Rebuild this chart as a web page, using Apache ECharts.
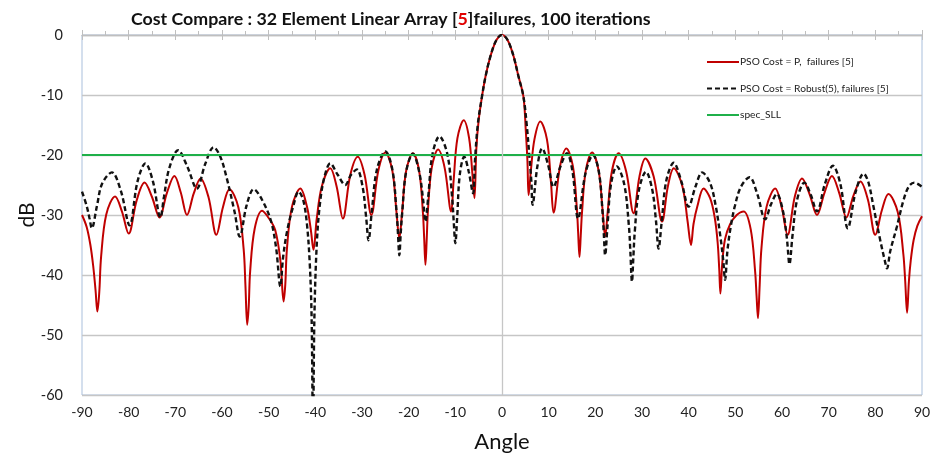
<!DOCTYPE html>
<html>
<head>
<meta charset="utf-8">
<script src="https://cdn.jsdelivr.net/npm/echarts@6/dist/echarts.min.js"></script>
<style>html,body{margin:0;padding:0;background:#fff}#c{width:939px;height:460px}</style>
</head>
<body>
<div id="c"></div>
<script>
const xTicks = [-90, 90, 10];
const yTicks = [-60, 0, 10];
const seriesNames = ['PSO Cost = P,  failures [5]', 'PSO Cost = Robust(5), failures [5]', 'spec_SLL'];

const redAngle = [-90,-89.0,-88.2,-87.6,-87.1,-86.7,-86.3,-85.9,-84.8,-82.9,-81.45,-80.0,-78.3,-76.6,-75.0,-73.4,-71.8,-70.2,-68.85,-67.5,-66.05,-64.6,-62.9,-61.2,-59.8,-58.4,-56.5,-55.36,-54.98,-54.6,-54.28,-53.96,-53.0,-51.4,-50.0,-48.6,-47.5,-46.8,-46.44,-46.08,-45.0,-43.2,-41.8,-40.96,-40.4,-39.68,-38.6,-36.8,-35.45,-34.1,-32.5,-30.9,-29.45,-28.0,-26.5,-25.0,-23.5,-22.6,-22.0,-21.42,-20.55,-19.1,-17.75,-16.94,-16.67,-16.4,-16.13,-15.86,-15.05,-13.7,-12.3,-10.9,-10.36,-9.55,-8.2,-7.05,-6.36,-5.9,-5.5,-5.0,-4.3,-3.5,-2.5,-1.5,-0.7,0,0.7,1.5,2.5,3.5,4.6,5.1,5.45,5.7,6.2,6.95,8.2,9.63,10.48,11.05,12.43,13.8,15.2,16.04,16.32,16.6,16.87,17.14,17.95,19.3,20.7,21.54,22.1,22.68,23.55,25.0,26.6,28.2,29.45,30.7,32.5,34.3,35.55,36.8,38.65,39.76,40.5,41.04,41.85,43.2,44.6,45.6,46.2,46.55,46.8,47.2,47.8,48.9,50.3,51.8,53.3,54.24,54.55,54.85,55.22,55.59,56.7,58.55,59.9,61.2,62.75,64.3,65.9,67.5,69.1,70.7,72.25,73.8,75.3,76.8,78.4,80.0,81.4,82.8,84.8,86.0,86.4,86.8,87.2,87.6,88.2,89.0,90];
const redDb = [-30,-32.0,-35.0,-38.5,-42.5,-46.1,-42.9,-36.9,-29.9,-26.9,-29.4,-33.1,-27.6,-24.6,-27.0,-30.4,-26.3,-23.5,-26.2,-30.0,-26.4,-23.9,-27.0,-33.3,-28.7,-25.7,-28.7,-35.7,-41.7,-48.3,-45.3,-39.3,-32.3,-29.3,-30.5,-32.5,-37.5,-44.4,-41.6,-35.6,-28.6,-25.6,-28.6,-32.5,-35.8,-30.5,-25.2,-22.2,-25.2,-30.6,-23.3,-20.3,-23.3,-30.0,-22.6,-19.6,-22.6,-29.6,-33.9,-29.7,-22.7,-19.7,-22.7,-29.7,-34.0,-38.3,-34.0,-29.1,-22.1,-19.1,-22.1,-29.4,-24.2,-17.2,-14.2,-17.2,-23.0,-27.2,-19.0,-14.2,-10.3,-6.8,-3.6,-1.3,-0.3,0,-0.3,-1.3,-3.6,-6.8,-10.3,-16.0,-21.0,-26.7,-22.5,-17.4,-14.4,-17.4,-24.4,-29.6,-21.9,-18.9,-21.9,-28.9,-33.0,-37.0,-33.5,-29.6,-22.6,-19.6,-22.6,-29.0,-33.6,-29.2,-22.7,-19.7,-22.7,-29.7,-23.6,-20.6,-23.6,-31.1,-25.2,-22.2,-25.2,-31.0,-35.0,-31.5,-28.6,-25.6,-27.2,-30.5,-34.5,-39.0,-43.1,-38.0,-34.0,-31.5,-30.0,-29.4,-32.4,-39.4,-43.5,-47.2,-41.6,-35.6,-28.6,-25.6,-28.6,-33.3,-26.9,-23.9,-26.5,-30.0,-26.3,-23.5,-26.3,-30.4,-26.8,-24.4,-27.4,-33.3,-29.2,-26.5,-29.5,-36.5,-41.0,-46.3,-41.0,-37.5,-34.2,-31.8,-30.2];

const blackAngle = [-90,-89.0,-88.4,-87.9,-86.8,-85.7,-83.6,-81.7,-79.8,-78.1,-76.4,-74.8,-73.2,-72.44,-71.3,-69.4,-67.4,-65.4,-63.6,-61.8,-60.4,-59.0,-57.3,-56.2,-54.7,-53.2,-51.4,-49.5,-48.4,-47.5,-46.9,-46.0,-44.65,-43.6,-42.6,-41.8,-41.2,-40.8,-40.5,-40.2,-39.7,-39.0,-38.0,-36.8,-35.2,-33.6,-32.35,-31.1,-29.85,-29.1,-28.6,-27.9,-26.8,-25.0,-23.5,-22.6,-22.3,-22.0,-21.7,-21.4,-20.55,-19.1,-17.75,-16.9,-16.4,-15.8,-14.9,-13.4,-11.7,-10.7,-10.35,-10.0,-9.6,-9.05,-8.1,-7.15,-6.2,-5.8,-5.2,-4.3,-3.5,-2.5,-1.5,-0.7,0,0.7,1.5,2.5,3.5,4.6,5.3,5.9,6.3,6.55,7.58,8.6,9.83,11.05,12.48,13.9,15.1,16.3,17.9,19.5,20.8,21.58,21.84,22.1,22.6,23.35,24.6,26.2,27.2,27.5,27.85,28.15,28.45,29.35,30.85,32.2,33.0,33.55,34.2,35.2,36.8,38.4,40.0,41.45,42.9,44.6,45.8,46.8,47.4,47.8,48.3,49.0,49.9,51.2,53.05,54.7,56.4,57.65,58.9,60.25,61.06,61.6,62.24,63.2,64.8,66.15,67.5,69.2,70.9,72.5,74.1,75.8,77.5,78.5,79.6,81.05,82.0,82.5,83.2,84.6,86.05,87.2,88.35,90];
const blackDb = [-26.1,-28.5,-30.5,-32.2,-28.5,-24.8,-22.9,-25.9,-31.7,-24.4,-21.4,-24.4,-30.4,-27.0,-22.2,-19.2,-22.0,-25.6,-21.5,-18.7,-20.2,-23.8,-29.5,-33.6,-28.3,-25.7,-27.5,-31.0,-35.5,-41.9,-37.0,-32.5,-28.3,-26.1,-27.5,-31.5,-38.0,-47.0,-66.0,-47.0,-35.0,-28.0,-23.5,-21.4,-23.3,-25.0,-23.3,-22.4,-25.4,-30.5,-34.2,-29.4,-22.4,-19.4,-22.4,-29.4,-33.0,-36.7,-33.0,-29.8,-22.8,-19.8,-22.8,-27.5,-31.1,-26.9,-19.9,-16.9,-19.9,-26.9,-31.0,-34.7,-30.3,-23.3,-20.3,-22.7,-26.4,-21.0,-15.0,-10.3,-6.8,-3.6,-1.3,-0.3,0,-0.3,-1.3,-3.6,-6.8,-10.3,-15.0,-20.5,-24.5,-28.3,-21.9,-18.9,-21.5,-25.3,-22.0,-19.7,-22.7,-30.6,-23.0,-20.0,-23.0,-30.0,-33.5,-36.7,-31.9,-24.9,-21.9,-24.9,-31.9,-36.0,-41.1,-37.0,-32.8,-25.8,-22.8,-25.8,-31.0,-35.6,-31.3,-24.3,-21.3,-24.3,-28.6,-25.3,-22.9,-24.7,-28.5,-33.6,-37.5,-40.8,-36.0,-32.0,-28.5,-25.3,-23.7,-26.5,-30.7,-28.2,-26.5,-29.5,-34.0,-38.2,-33.5,-27.6,-24.6,-26.6,-29.4,-24.8,-21.8,-24.8,-32.2,-26.1,-23.1,-24.5,-28.6,-34.2,-37.5,-38.9,-36.0,-32.0,-27.5,-25.2,-24.6,-25.3];

const specAngle = [-90, 90];
const specDb = [-20, -20];

const zip = (a, b) => a.map((v, i) => [v, b[i]]);
const FONT = 'Lato';
const chart = echarts.init(document.getElementById('c'), null, {renderer: 'canvas'});
const xBase = {type: 'value', min: xTicks[0], max: xTicks[1], interval: xTicks[2]};
chart.setOption({
  animation: false,
  backgroundColor: '#fff',
  textStyle: {fontFamily: FONT},
  title: {
    text: '{a|Cost Compare : 32 Element Linear Array [}{r|5}{a|]failures, 100 iterations}',
    left: 126, top: 5,
    textStyle: {
      rich: {
        a: {fontFamily: FONT, fontWeight: 'bold', fontSize: 17.8, color: '#111'},
        r: {fontFamily: FONT, fontWeight: 'bold', fontSize: 17.8, color: '#e00000'}
      }
    }
  },
  legend: {
    orient: 'vertical', left: 701, top: 52, itemWidth: 32, itemHeight: 10, itemGap: 16.5,
    data: seriesNames,
    itemStyle: {opacity: 0, borderWidth: 0},
    textStyle: {fontFamily: FONT, fontSize: 10.2, color: '#222', padding: [0, 0, 0, -4]}
  },
  grid: {left: 82, right: 17, top: 35, bottom: 65, show: true, borderColor: '#a9bfdc', borderWidth: 1, backgroundColor: 'transparent'},
  xAxis: [
    Object.assign({}, xBase, {
      position: 'bottom', name: 'Angle', nameLocation: 'middle', nameGap: 36,
      nameTextStyle: {fontFamily: FONT, fontSize: 22, color: '#111'},
      axisLine: {show: false}, axisTick: {show: false}, splitLine: {show: false},
      axisLabel: {fontFamily: FONT, fontSize: 14, color: '#222', margin: 10}
    }),
    Object.assign({}, xBase, {
      position: 'top',
      axisLine: {show: true, onZero: false, lineStyle: {color: '#bfbfbf', width: 1.3}},
      axisTick: {show: true, inside: false, length: 5, lineStyle: {color: '#bfbfbf'}},
      minorTick: {show: true, splitNumber: 2, length: 4, lineStyle: {color: '#bfbfbf'}},
      axisLabel: {show: false}, splitLine: {show: false}
    }),
    Object.assign({}, xBase, {
      position: 'top',
      axisLine: {show: false, onZero: false},
      axisTick: {show: true, inside: true, length: 5, lineStyle: {color: '#bfbfbf'}},
      axisLabel: {show: false}, splitLine: {show: false}
    })
  ],
  yAxis: [{
    type: 'value', min: yTicks[0], max: yTicks[1], interval: yTicks[2], position: 'left',
    name: 'dB', nameLocation: 'middle', nameGap: 44, nameMoveOverlap: false,
    nameTextStyle: {fontFamily: FONT, fontSize: 21, color: '#111'},
    axisLine: {show: false}, axisTick: {show: false},
    axisLabel: {fontFamily: FONT, fontSize: 14.5, color: '#222', margin: 19},
    splitLine: {show: true, lineStyle: {color: '#c6c6c6', width: 1.3}}
  }],
  series: [
    {
      name: seriesNames[0], type: 'line', data: zip(redAngle, redDb), xAxisIndex: 0,
      symbol: 'none', smooth: 0.35, lineStyle: {color: '#c00000', width: 2}, itemStyle: {color: '#c00000'},
      markLine: {silent: true, symbol: 'none', label: {show: false}, animation: false,
        lineStyle: {color: '#c6c6c6', type: 'solid', width: 1.3}, data: [{xAxis: 0}]},
      z: 2
    },
    {
      name: seriesNames[1], type: 'line', data: zip(blackAngle, blackDb), xAxisIndex: 0,
      symbol: 'none', smooth: 0.35, lineStyle: {color: '#111', width: 2.4, type: [5, 3]}, itemStyle: {color: '#111'},
      z: 3
    },
    {
      name: seriesNames[2], type: 'line', data: zip(specAngle, specDb), xAxisIndex: 0,
      symbol: 'none', lineStyle: {color: '#1fb04a', width: 2}, itemStyle: {color: '#1fb04a'},
      z: 4
    }
  ]
});
</script>
</body>
</html>
